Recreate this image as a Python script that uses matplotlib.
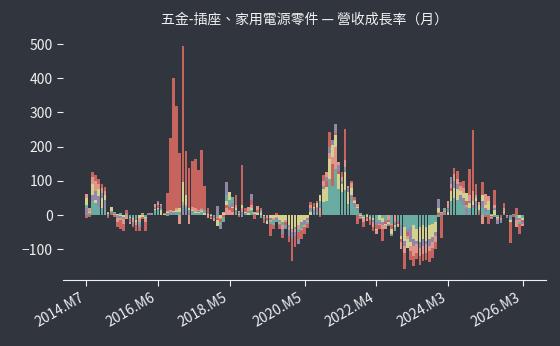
import numpy as np
import matplotlib
matplotlib.use('Agg')
import matplotlib.pyplot as plt

plt.rcParams['font.family'] = ['Noto Sans CJK TC', 'DejaVu Sans']

# monthly growth rate (%) per company, 2014.M7 .. 2026.M3
red = [-8, -7, 125, 116, 104, 91, 81, -10, 5, -5, -36, -41, -46, 16, -20, -36, -46, -46, -12, -46,
       5, 4, 20, 30, 25, 5, 65, 225, 400, 318, 182, 495, 187, 137, 157, 165, 132, 189, 86, 20,
       -10, -8, -15, -20, -5, 30, 25, 20, 60, -7, 145, 22, 10, 45, -12, 15, 20, -22, -15, -61,
       -41, 5, -41, -66, -30, -80, -134, -93, -70, -70, -56, -38, 39, 34, 42, -7, 118, 100, 243, 150,
       240, 130, 125, 253, 80, 101, 52, -26, -12, -36, -10, -28, -46, -40, -41, -75, -25, -20, -40, -30,
       -25, -80, -158, -60, -130, -150, -128, -146, -135, -132, -136, -125, -100, 5, -68, 8, 20, 80, 137, 128,
       96, 101, 40, 135, 248, 91, 10, 96, -7, -26, -5, 72, -10, -8, 34, -5, -83, -5, 22, -56,
       -20]
pink = [62, 22, 110, 100, 90, 80, 70, 8, 10, 4, -20, -15, -25, -12, -26, -20, -30, -20, 5, -20,
        3, 6, 32, 35, 32, 3, 12, 15, 10, 20, -26, 37, 30, -26, 25, 20, 15, 18, 10, -8,
        -12, -17, -10, -12, 8, 20, 15, 10, 30, 13, 20, 10, 25, 30, 8, 27, 12, -10, -8, -20,
        -15, -10, -25, -40, -20, -45, -50, -50, -40, -45, -35, -20, 30, 20, 25, 20, 100, 125, 180, 170,
        200, 155, 110, 160, 86, 95, 45, 32, -8, -20, -17, -15, -35, -56, -30, -40, -41, -15, -30, -20,
        -36, -100, -110, -70, -105, -120, -110, -120, -115, -110, -105, -95, -80, 10, 10, 12, 42, 90, 120, 105,
        85, 80, 30, 60, 70, 60, 37, -26, 62, 57, -8, 30, -15, -12, 20, -3, -15, 3, -36, -20,
        -31]
purple = [20, 5, 60, 70, 55, 65, 45, 3, 8, 6, -10, -8, -12, 5, -18, -28, -15, -35, 3, -10,
          2, 2, 25, 40, 28, 4, 5, 8, 6, 10, 10, 20, 15, 10, 12, 10, 12, 20, 8, 5,
          -4, -5, 27, -41, 10, 98, 30, 35, 15, 5, 10, 5, 12, 62, 3, 10, 18, -5, -10, -15,
          -10, -15, -30, -55, -41, -60, -70, -60, -85, -30, -25, -15, 20, 15, 20, 30, 85, 110, 200, 220,
          265, 145, 100, 140, 75, 60, 35, 20, -5, -10, -12, -10, -20, -30, -25, -30, -20, -31, -61, -25,
          -20, -60, -90, -50, -80, -90, -85, -95, -90, -85, -90, -80, -60, 47, 5, 5, 15, 111, 100, 90,
          60, 50, 20, 40, 30, 40, 15, 40, 20, 15, -12, 20, -26, -22, 10, -8, -10, 2, -15, -15,
          -25]
yellow = [50, 10, 90, 45, 75, 50, 60, 5, 25, 10, 3, -3, -5, 3, -10, -12, -20, -10, -5, -8,
          1, 3, 18, 20, 15, 2, 8, 10, 12, 15, 20, 96, 60, 20, 15, 8, 10, 12, 5, 3,
          -3, -6, -31, -10, 5, 40, 67, 25, 20, 3, 30, 8, 5, 20, 5, 5, 5, -3, -26, -10,
          -8, -5, -15, -20, -15, -30, -40, -35, -30, -20, -15, -10, 10, 25, 35, 60, 75, 81, 165, 204,
          233, 120, 90, 125, 67, 80, 40, 25, -3, -8, -5, -8, -15, -45, -15, -20, -30, -25, -55, -35,
          -30, -70, -75, -95, -90, -70, -75, -80, -70, -75, -70, -65, -50, 20, 3, 10, 10, 70, 80, 75,
          70, 64, 64, 35, 40, 50, 30, 60, 30, 40, -3, 15, -8, -10, 8, -6, -20, 3, -10, -10,
          -15]
teal = [30, 3, 40, 35, 25, 20, 15, -4, 12, 8, -5, 5, -8, 2, -5, -8, -10, -25, 2, -5,
        4, 5, 15, 18, 20, 6, -3, 5, 8, 5, 8, 30, 25, 15, 10, 5, 6, 8, 15, 4,
        2, -3, -5, -30, -20, 60, 45, 52, 10, 8, -7, 3, 8, 15, 10, 8, -8, -12, -18, -25,
        -30, -20, -20, -30, -35, -35, -45, -40, -50, -40, -30, -25, 15, 10, 12, 40, 37, 42, 106, 86,
        135, 76, 67, 72, 32, 40, 25, 15, 5, -5, 3, -5, -10, -20, -20, -10, -15, -28, -25, -46,
        -15, -30, -35, -40, -35, -30, -40, -35, -30, -35, -30, -25, -20, -5, 2, 20, 18, 40, 50, 45,
        40, 30, 25, 20, 20, 20, 12, 20, 10, 12, 4, -7, -5, -15, 5, -10, -15, 1, -10, -25,
        -10]

series = [red, pink, purple, yellow, teal]
colors = ['#c8645e', '#e0968a', '#9088a8', '#d4d08e', '#6aaba2']

months = []
y, m = 2014, 7
for _ in range(len(red)):
    months.append(f'{y}.M{m}')
    m += 1
    if m > 12:
        y, m = y + 1, 1

bg = '#30353e'
fig = plt.figure(figsize=(5.6, 3.46), dpi=100, facecolor=bg)
ax = fig.add_axes([0.1125, 0.19, 0.8625, 0.71], facecolor=bg)

x = np.arange(len(months))
for vals, c in zip(series, colors):
    bars = ax.bar(x, vals, width=0.85, color=c, linewidth=0)
    # bigger bars go behind smaller ones
    for p, v in zip(bars.patches, vals):
        p.set_zorder(2 + (1000 - abs(v)) / 1000)

ticks = [int(t) for t in np.linspace(0, len(months) - 1, 7)]
ax.set_xticks(ticks)
ax.set_xticklabels([months[t] for t in ticks], rotation=30, ha='right')
ax.set_yticks([-100, 0, 100, 200, 300, 400, 500])

for s in ['top', 'right', 'left']:
    ax.spines[s].set_visible(False)
ax.spines['bottom'].set_color('#f0f0f0')
ax.tick_params(colors='#f0f0f0', labelsize=10, length=4)

ax.set_title('五金-插座、家用電源零件 — 營收成長率（月）', color='#f0f0f0', fontsize=10, pad=8)

fig.savefig('out.png', dpi=100, facecolor=bg)
